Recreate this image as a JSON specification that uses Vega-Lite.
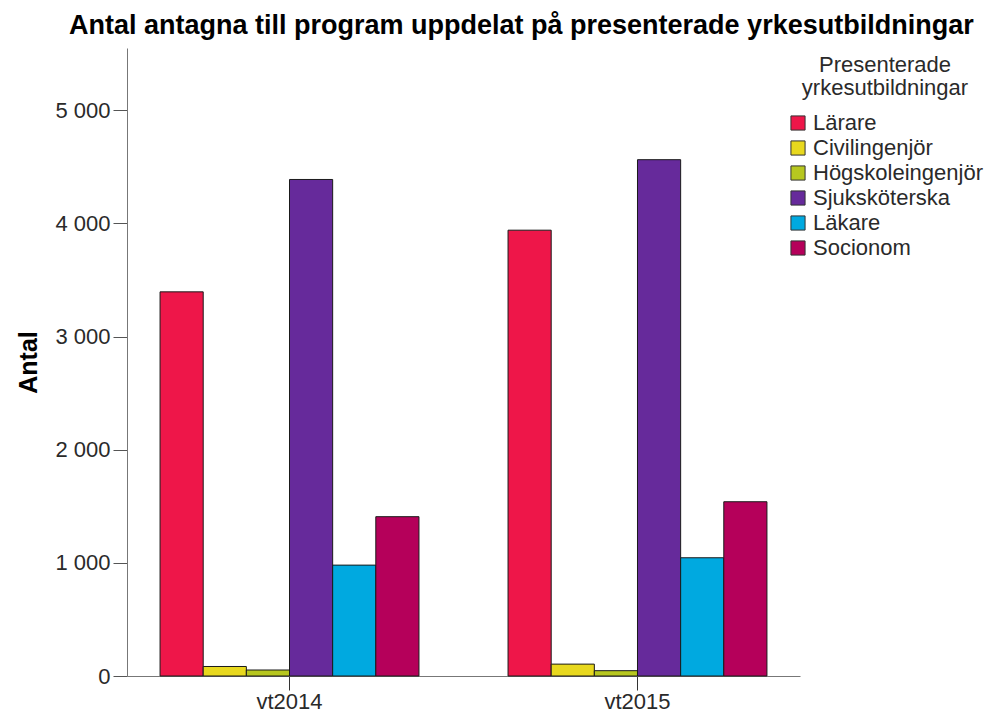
{
  "$schema": "https://vega.github.io/schema/vega-lite/v6.json",
  "width": 673,
  "height": 628,
  "autosize": {"type": "none"},
  "padding": {"left": 127, "top": 48, "right": 190, "bottom": 44},
  "background": "white",
  "title": {
    "text": "Antal antagna till program uppdelat på presenterade yrkesutbildningar",
    "anchor": "start",
    "frame": "group",
    "dx": -58,
    "dy": 29,
    "offset": 16,
    "baseline": "alphabetic",
    "fontSize": 27,
    "fontWeight": "bold",
    "color": "#000000"
  },
  "data": {
    "values": [
      {"termin": "vt2014", "utbildning": "Lärare", "antal": 3395},
      {"termin": "vt2014", "utbildning": "Civilingenjör", "antal": 84},
      {"termin": "vt2014", "utbildning": "Högskoleingenjör", "antal": 53},
      {"termin": "vt2014", "utbildning": "Sjuksköterska", "antal": 4388},
      {"termin": "vt2014", "utbildning": "Läkare", "antal": 980},
      {"termin": "vt2014", "utbildning": "Socionom", "antal": 1408},
      {"termin": "vt2015", "utbildning": "Lärare", "antal": 3940},
      {"termin": "vt2015", "utbildning": "Civilingenjör", "antal": 105},
      {"termin": "vt2015", "utbildning": "Högskoleingenjör", "antal": 47},
      {"termin": "vt2015", "utbildning": "Sjuksköterska", "antal": 4563},
      {"termin": "vt2015", "utbildning": "Läkare", "antal": 1045},
      {"termin": "vt2015", "utbildning": "Socionom", "antal": 1540}
    ]
  },
  "mark": {"type": "bar", "stroke": "#1a1a1a", "strokeWidth": 1},
  "encoding": {
    "x": {
      "field": "termin",
      "type": "nominal",
      "sort": ["vt2014", "vt2015"],
      "scale": {"paddingInner": 0.256, "paddingOuter": 0.095},
      "axis": {
        "title": null,
        "labelAngle": 0,
        "labelFontSize": 22,
        "labelColor": "#2a2a2a",
        "labelPadding": 1,
        "tickSize": 14,
        "tickColor": "#333333",
        "domainColor": "#777777",
        "grid": false
      }
    },
    "xOffset": {
      "field": "utbildning",
      "sort": ["Lärare", "Civilingenjör", "Högskoleingenjör", "Sjuksköterska", "Läkare", "Socionom"],
      "scale": {"paddingInner": 0, "paddingOuter": 0}
    },
    "y": {
      "field": "antal",
      "type": "quantitative",
      "scale": {"domain": [0, 5550], "nice": false},
      "axis": {
        "title": "Antal",
        "titleFontSize": 25,
        "titleFontWeight": "bold",
        "titleColor": "#000000",
        "titleAngle": 270,
        "titleX": -91,
        "titleY": 314,
        "titleBaseline": "alphabetic",
        "titleAlign": "center",
        "values": [0, 1000, 2000, 3000, 4000, 5000],
        "labelExpr": "replace(format(datum.value, ','), ',', ' ')",
        "labelFontSize": 22,
        "labelColor": "#2a2a2a",
        "labelPadding": 3,
        "tickSize": 14,
        "tickColor": "#555555",
        "domainColor": "#777777",
        "grid": false
      }
    },
    "color": {
      "field": "utbildning",
      "type": "nominal",
      "sort": ["Lärare", "Civilingenjör", "Högskoleingenjör", "Sjuksköterska", "Läkare", "Socionom"],
      "scale": {
        "domain": ["Lärare", "Civilingenjör", "Högskoleingenjör", "Sjuksköterska", "Läkare", "Socionom"],
        "range": ["#ee1649", "#e8d81e", "#b7c71f", "#662a9b", "#00a9e0", "#b5005a"]
      },
      "legend": {
        "orient": "none",
        "legendX": 660,
        "legendY": 7,
        "title": ["Presenterade", "yrkesutbildningar"],
        "titleFontSize": 22,
        "titleFontWeight": "normal",
        "titleColor": "#2a2a2a",
        "titleAnchor": "middle",
        "titleAlign": "center",
        "titleLineHeight": 23,
        "titlePadding": 12,
        "titleLimit": 300,
        "labelFontSize": 22,
        "labelLimit": 300,
        "labelColor": "#2a2a2a",
        "labelOffset": 4,
        "symbolType": "square",
        "symbolSize": 200,
        "symbolStrokeColor": "#333333",
        "symbolStrokeWidth": 1,
        "rowPadding": 3
      }
    }
  },
  "config": {
    "font": "Liberation Sans",
    "view": {"stroke": null}
  }
}
